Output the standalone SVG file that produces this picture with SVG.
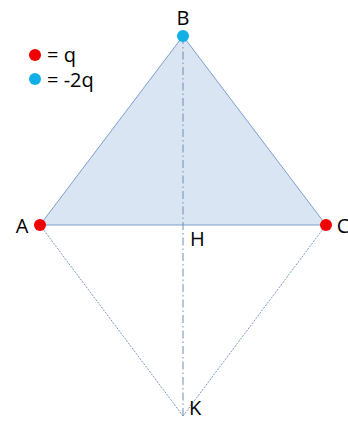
<svg xmlns="http://www.w3.org/2000/svg" width="348" height="421" viewBox="0 0 348 421">
<style>
text{font-family:"Open Sans","Liberation Sans",sans-serif;fill:#000}
.lbl{font-size:20px}
.leg{font-size:20px}
.tri{fill:#dae5f3;stroke:#7c9fcb;stroke-width:1}
.dash{stroke:#7d9ac0;stroke-width:1;stroke-dasharray:2 1.2;fill:none}
.dd{stroke:#6f8cb0;stroke-width:1;stroke-dasharray:8 3 1.5 3;fill:none}
.pos{fill:#f00000}
.neg{fill:#12aee6}
</style>
<rect width="348" height="421" fill="#fff"/>
<g id="triangle"><polygon class="tri" points="183,36 40,225 326,225"/></g>
<g id="connectors">
<line class="dash" x1="40" y1="225" x2="183" y2="416"/>
<line class="dash" x1="326" y1="225" x2="183" y2="416"/>
<line class="dd" x1="183" y1="36" x2="183" y2="416"/>
</g>
<g id="nodeB"><circle class="neg" cx="183" cy="36" r="6"/><text class="lbl" x="183" y="25" text-anchor="middle">B</text></g>
<g id="nodeA"><circle class="pos" cx="40" cy="225" r="6"/><text class="lbl" x="22" y="233" text-anchor="middle">A</text></g>
<g id="nodeC"><circle class="pos" cx="326" cy="225" r="6"/><text class="lbl" x="343" y="233" text-anchor="middle">C</text></g>
<g id="nodeH"><text class="lbl" x="190" y="246">H</text></g>
<g id="nodeK"><text class="lbl" x="189" y="415">K</text></g>
<g id="legend">
<circle class="pos" cx="35" cy="55" r="6"/><text class="leg" x="47" y="62">= q</text>
<circle class="neg" cx="35" cy="79" r="6"/><text class="leg" x="47" y="87">= -2q</text>
</g>
</svg>
